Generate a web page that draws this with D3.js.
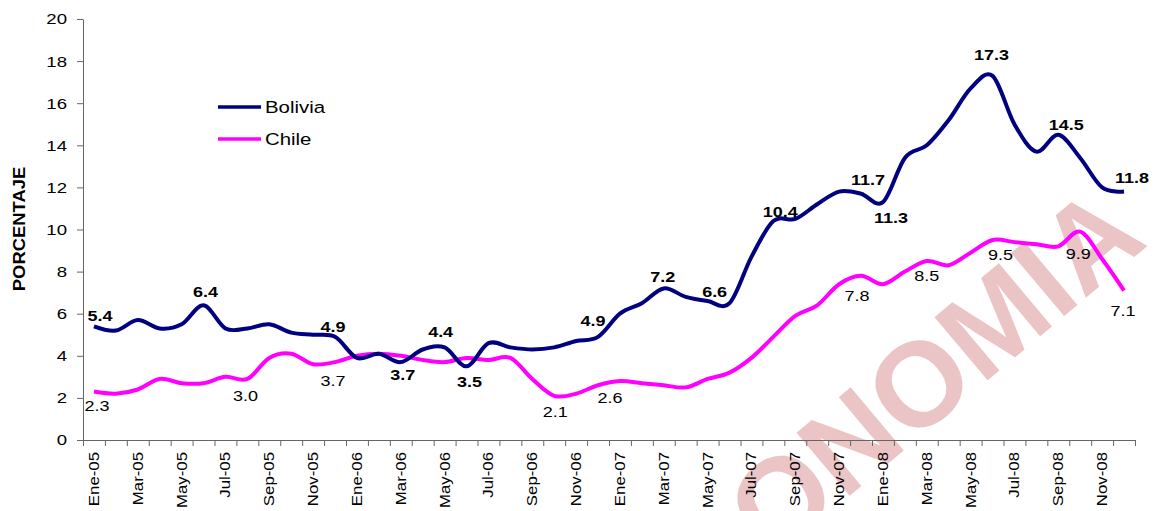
<!doctype html>
<html>
<head>
<meta charset="UTF-8" />
<script src="https://cdn.jsdelivr.net/npm/d3@7"></script>
<style>
  body { margin: 0; background: #fff; }
  svg text { font-family: "Liberation Sans", Arial, sans-serif; }
</style>
</head>
<body>
<svg id="chart" width="1154" height="511"></svg>
<script>
(function () {
  "use strict";

  // monthly categories Ene-05 .. Dic-08
  const monthNames = ["Ene", "Feb", "Mar", "Abr", "May", "Jun", "Jul", "Ago", "Sep", "Oct", "Nov", "Dic"];
  const years = ["05", "06", "07", "08"];
  const months = [];
  years.forEach(function (yy) { monthNames.forEach(function (m) { months.push(m + "-" + yy); }); });

  const bolivia = [5.4, 5.2, 5.7, 5.3, 5.5, 6.4, 5.3, 5.3, 5.5, 5.1, 5.0, 4.9,
                   3.9, 4.1, 3.7, 4.3, 4.4, 3.5, 4.6, 4.4, 4.3, 4.4, 4.7, 4.9,
                   6.0, 6.5, 7.2, 6.8, 6.6, 6.5, 8.7, 10.4, 10.5, 11.2, 11.8, 11.7,
                   11.3, 13.4, 14.0, 15.2, 16.7, 17.3, 15.0, 13.7, 14.5, 13.4, 12.0, 11.8];

  const chile = [2.3, 2.2, 2.4, 2.9, 2.7, 2.7, 3.0, 2.9, 3.9, 4.1, 3.6, 3.7,
                 4.0, 4.1, 4.0, 3.8, 3.7, 3.9, 3.8, 3.9, 2.9, 2.1, 2.2, 2.6,
                 2.8, 2.7, 2.6, 2.5, 2.9, 3.2, 3.9, 4.9, 5.9, 6.4, 7.4, 7.8,
                 7.4, 8.0, 8.5, 8.3, 8.9, 9.5, 9.4, 9.3, 9.2, 9.9, 8.6, 7.1];

  // which months carry a value label
  const boliviaLabelIdx = [0, 5, 11, 14, 16, 17, 23, 26, 28, 31, 35, 36, 41, 44, 47];
  const chileLabelIdx = [0, 6, 11, 21, 23, 35, 38, 41, 45, 47];

  const yTicks = [0, 2, 4, 6, 8, 10, 12, 14, 16, 18, 20];

  const svg = d3.select("#chart");
  const left = 83, right = 1135, top = 19, bottom = 440;
  const stretch = 1.2; // text in the source is drawn a bit wide

  const x = d3.scaleBand().domain(months).range([left, right]).padding(0);
  const xEdge = d3.scaleLinear().domain([0, months.length]).range([left, right]);
  const y = d3.scaleLinear().domain([0, 20]).range([bottom, top]);
  const cx = function (i) { return x(months[i]) + x.bandwidth() / 2; };

  // watermark behind everything
  svg.append("text")
    .attr("transform", "translate(1150,244) rotate(-40)")
    .attr("text-anchor", "end")
    .attr("font-size", 120)
    .attr("font-weight", "bold")
    .attr("fill", "#ebc5c5")
    .text("ECONOMIA");

  // y axis
  const yAxis = svg.append("g")
    .attr("transform", "translate(" + left + ",0)")
    .call(d3.axisLeft(y).tickValues(yTicks).tickSize(6).tickSizeOuter(0).tickPadding(10));
  yAxis.selectAll("path, line").attr("stroke", "#666");
  yAxis.selectAll("text")
    .attr("font-size", 15.5)
    .attr("fill", "#000")
    .attr("font-family", "Liberation Sans, Arial, sans-serif")
    .attr("transform", function () {
      return "translate(" + (-16) + ",0) scale(" + stretch + ",1) translate(16,0)";
    });

  // x axis: tick marks between categories
  const xTicksG = svg.append("g")
    .attr("transform", "translate(0," + bottom + ")")
    .call(d3.axisBottom(xEdge).tickValues(d3.range(0, months.length + 1)).tickSize(6).tickSizeOuter(0).tickFormat(""));
  xTicksG.selectAll("path, line").attr("stroke", "#666");

  // x labels every two months
  svg.append("g").selectAll("text")
    .data(months.filter(function (d, i) { return i % 2 === 0; }))
    .enter().append("text")
    .attr("transform", function (d) {
      return "translate(" + (x(d) + x.bandwidth() / 2 + 5) + "," + (bottom + 12) + ") rotate(-90) scale(" + stretch + ",1)";
    })
    .attr("text-anchor", "end")
    .attr("font-size", 14)
    .attr("fill", "#000")
    .text(function (d) { return d; });

  // y axis title
  svg.append("text")
    .attr("transform", "translate(25,229) rotate(-90) scale(1.15,1)")
    .attr("text-anchor", "middle")
    .attr("font-size", 16)
    .attr("font-weight", "bold")
    .text("PORCENTAJE");

  const line = d3.line()
    .x(function (d, i) { return cx(i); })
    .y(function (d) { return y(d); })
    .curve(d3.curveCardinal.tension(0));

  svg.append("path").datum(chile)
    .attr("d", line)
    .attr("fill", "none")
    .attr("stroke", "#ff00ff")
    .attr("stroke-width", 4)
    .attr("stroke-linejoin", "round");

  svg.append("path").datum(bolivia)
    .attr("d", line)
    .attr("fill", "none")
    .attr("stroke", "#000080")
    .attr("stroke-width", 4)
    .attr("stroke-linejoin", "round");

  // label nudges (dx, dy to baseline), same order as the index lists
  const boliviaNudge = [[6, -5], [2, -8], [-2, -5], [2, 18], [-4, -10], [3, 21], [-5, -11], [-1, -6],
                        [7, -4], [7, -4], [7, -9], [8, 21], [-1, -16], [8, -5], [8, -9]];
  const chileNudge = [[3, 19], [20, 24], [-2, 24], [1, 21], [12, 18], [-4, 25], [0, 20], [8, 20], [-2, 27], [-1, 25]];

  function labels(values, idx, nudge, bold) {
    svg.append("g").selectAll("text")
      .data(idx)
      .enter().append("text")
      .attr("transform", function (d, k) {
        return "translate(" + (cx(d) + nudge[k][0]) + "," + (y(values[d]) + nudge[k][1]) + ") scale(" + stretch + ",1)";
      })
      .attr("text-anchor", "middle")
      .attr("font-size", 15)
      .attr("font-weight", bold ? "bold" : "normal")
      .attr("fill", "#000")
      .text(function (d) { return values[d].toFixed(1); });
  }
  labels(bolivia, boliviaLabelIdx, boliviaNudge, true);
  labels(chile, chileLabelIdx, chileNudge, false);

  // legend
  const legend = svg.append("g");
  const series = [{ name: "Bolivia", color: "#000080" }, { name: "Chile", color: "#ff00ff" }];
  series.forEach(function (s, i) {
    const ly = 107 + i * 32;
    legend.append("line")
      .attr("x1", 218).attr("x2", 261)
      .attr("y1", ly).attr("y2", ly)
      .attr("stroke", s.color)
      .attr("stroke-width", 3.5);
    legend.append("text")
      .attr("transform", "translate(265," + (ly + 6) + ") scale(" + stretch + ",1)")
      .attr("font-size", 17)
      .attr("fill", "#000")
      .text(s.name);
  });
})();
</script>
</body>
</html>
